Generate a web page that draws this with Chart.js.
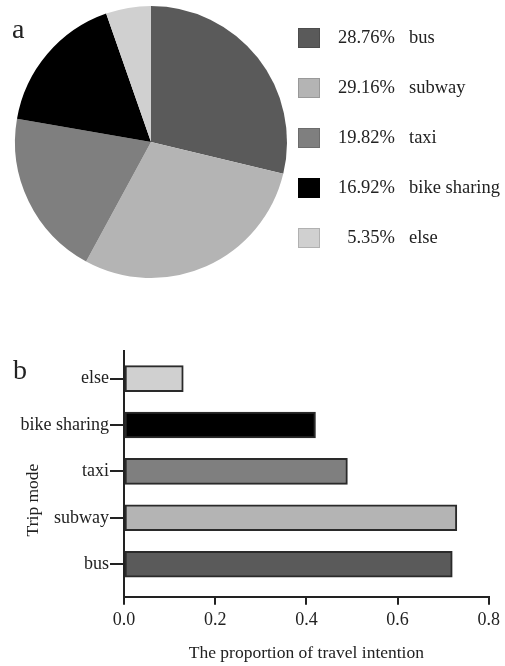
<!DOCTYPE html>
<html>
<head>
<meta charset="utf-8">
<script src="https://cdn.jsdelivr.net/npm/chart.js@4/dist/chart.umd.min.js"></script>
<style>
  html, body { margin: 0; padding: 0; background: #fff; }
  #wrap { position: relative; width: 505px; height: 666px; overflow: hidden; }
  canvas { position: absolute; left: 0; }
</style>
</head>
<body>
<div id="wrap">
  <canvas id="pie" width="505" height="300" style="top:0"></canvas>
  <canvas id="bar" width="505" height="336" style="top:330px"></canvas>
</div>
<script>
// Trip modes and their shares
const modes = ['bus', 'subway', 'taxi', 'bike sharing', 'else'];
const shares = [28.76, 29.16, 19.82, 16.92, 5.35];          // % of trips (pie)
const intention = [0.72, 0.73, 0.49, 0.42, 0.13];           // proportion of travel intention (bars)
const xTickValues = [0, 0.2, 0.4, 0.6, 0.8];
const modeColors = ['#5a5a5a', '#b4b4b4', '#7f7f7f', '#000000', '#d0d0d0'];

const SERIF = "'Liberation Serif', 'Times New Roman', serif";
const INK = '#222';

// Panel letter + right-hand legend for the pie
const pieDecor = {
  id: 'pieDecor',
  afterDraw(chart) {
    const ctx = chart.ctx;
    ctx.save();
    ctx.fillStyle = INK;
    ctx.font = '28px ' + SERIF;
    ctx.textBaseline = 'alphabetic';
    ctx.textAlign = 'left';
    ctx.fillText('a', 12, 38);

    const ds = chart.data.datasets[0];
    ctx.font = '18.5px ' + SERIF;
    ctx.textBaseline = 'middle';
    chart.data.labels.forEach((lab, i) => {
      const cy = 38 + i * 50;
      ctx.fillStyle = ds.backgroundColor[i];
      ctx.fillRect(298, cy - 10, 22, 20);
      ctx.strokeStyle = 'rgba(0,0,0,0.15)';
      ctx.lineWidth = 1;
      ctx.strokeRect(298.5, cy - 9.5, 21, 19);
      ctx.fillStyle = INK;
      ctx.textAlign = 'right';
      ctx.fillText(ds.data[i].toFixed(2) + '%', 395, cy);
      ctx.textAlign = 'left';
      ctx.fillText(lab, 409, cy);
    });
    ctx.restore();
  }
};

new Chart(document.getElementById('pie'), {
  type: 'pie',
  data: {
    labels: modes,
    datasets: [{
      data: shares,
      backgroundColor: modeColors,
      borderWidth: 0
    }]
  },
  options: {
    responsive: false,
    animation: false,
    layout: { padding: { left: 15, top: 6, right: 218, bottom: 22 } },
    plugins: { legend: { display: false }, tooltip: { enabled: false } }
  },
  plugins: [pieDecor]
});

// Panel letter and rotated y-axis title for the bar chart
const barDecor = {
  id: 'barDecor',
  afterDraw(chart) {
    const ctx = chart.ctx;
    ctx.save();
    ctx.fillStyle = INK;
    ctx.font = '28px ' + SERIF;
    ctx.textAlign = 'left';
    ctx.textBaseline = 'alphabetic';
    ctx.fillText('b', 13, 49);

    ctx.font = '17.5px ' + SERIF;
    ctx.translate(33, 170);
    ctx.rotate(-Math.PI / 2);
    ctx.textAlign = 'center';
    ctx.textBaseline = 'middle';
    ctx.fillText('Trip mode', 0, 0);
    ctx.restore();
  }
};

new Chart(document.getElementById('bar'), {
  type: 'bar',
  data: {
    datasets: [{
      data: intention.map((v, i) => ({ x: v, y: i })),
      backgroundColor: modeColors,
      borderColor: '#2a2a2a',
      borderWidth: 2,
      borderSkipped: false,
      barThickness: 26
    }]
  },
  options: {
    indexAxis: 'y',
    responsive: false,
    animation: false,
    layout: { padding: { left: 0, top: 20.7, right: 16, bottom: 0 } },
    plugins: { legend: { display: false }, tooltip: { enabled: false } },
    scales: {
      x: {
        type: 'linear',
        min: 0,
        max: 0.8,
        afterBuildTicks(scale) { scale.ticks = xTickValues.map(v => ({ value: v })); },
        afterFit(scale) { scale.height = 69.3; },
        border: { display: true, color: INK, width: 2 },
        grid: { drawOnChartArea: false, drawTicks: true, tickLength: 8, color: INK, lineWidth: 2 },
        ticks: {
          padding: 5,
          color: INK,
          font: { family: SERIF, size: 18 },
          callback: v => Number(v).toFixed(1)
        },
        title: {
          display: true,
          text: 'The proportion of travel intention',
          color: INK,
          font: { family: SERIF, size: 17.5 },
          padding: { top: 0, bottom: 2.5 }
        }
      },
      y: {
        type: 'linear',
        offset: false,
        min: -0.7,
        max: 4.6,
        afterBuildTicks(scale) { scale.ticks = modes.map((m, i) => ({ value: i })); },
        afterFit(scale) { scale.width = 124; },
        border: { display: true, color: INK, width: 2 },
        grid: { offset: false, drawOnChartArea: false, drawTicks: true, tickLength: 14, color: INK, lineWidth: 2 },
        ticks: {
          padding: 1,
          color: INK,
          font: { family: SERIF, size: 18 },
          callback: v => modes[v]
        }
      }
    }
  },
  plugins: [barDecor]
});
</script>
</body>
</html>
